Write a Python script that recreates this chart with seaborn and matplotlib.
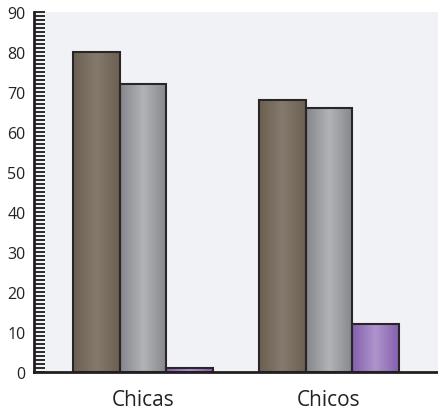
import numpy as np
import pandas as pd
import matplotlib
matplotlib.use("Agg")
import matplotlib.pyplot as plt
import seaborn as sns
from matplotlib.colors import LinearSegmentedColormap
from matplotlib.ticker import MultipleLocator

grupos = ["Chicas", "Chicos"]
serie_1 = [80, 68]
serie_2 = [72, 66]
serie_3 = [1, 12]
series = ["Serie 1", "Serie 2", "Serie 3"]

df = pd.DataFrame({
    "grupo": grupos * 3,
    "serie": [s for s in series for _ in grupos],
    "valor": serie_1 + serie_2 + serie_3,
})

sns.set_style("white")
plt.rcParams["font.family"] = ["Open Sans", "DejaVu Sans"]

# colores: borde oscuro -> centro claro (efecto cilindro)
degradados = {
    "Serie 1": ["#6c6052", "#857a6d", "#6c6052"],
    "Serie 2": ["#85878c", "#b1b3b7", "#85878c"],
    "Serie 3": ["#8660ae", "#ae94cc", "#8660ae"],
}
paleta = {s: degradados[s][1] for s in series}

fig, ax = plt.subplots(figsize=(4.38, 4.14), dpi=100)
fig.subplots_adjust(left=34 / 438, right=1.0, top=1 - 13 / 414, bottom=1 - 373 / 414)
ax.set_facecolor("#f0f2f5")

sns.barplot(data=df, x="grupo", y="valor", hue="serie", palette=paleta,
            width=0.75, edgecolor="#2a2526", linewidth=1.5, legend=False, ax=ax)

# relleno con degradado recortado a cada barra
for barra, serie in zip(ax.patches, [s for s in series for _ in grupos]):
    x0, y0 = barra.get_x(), barra.get_y()
    w, h = barra.get_width(), barra.get_height()
    cmap = LinearSegmentedColormap.from_list("g", degradados[serie])
    grad = np.linspace(0, 1, 64).reshape(1, -1)
    im = ax.imshow(grad, cmap=cmap, aspect="auto", extent=(x0, x0 + w, y0, y0 + h),
                   zorder=barra.get_zorder() - 0.1, interpolation="bilinear")
    im.set_clip_path(barra)
    barra.set_facecolor("none")

ax.set_xlim(-0.586, 1.586)
ax.set_ylim(0, 90)
ax.set_xlabel("")
ax.set_ylabel("")
ax.yaxis.set_major_locator(MultipleLocator(10))
ax.yaxis.set_minor_locator(MultipleLocator(1))
ax.tick_params(axis="y", which="both", left=True, direction="in", length=8, width=1.3,
               color="#1e1a1b")
ax.tick_params(axis="y", which="major", labelsize=11.5, pad=6, labelcolor="#222222")
ax.tick_params(axis="x", bottom=False, length=0, labelsize=15, pad=12, labelcolor="#222222")

for lado in ["top", "right"]:
    ax.spines[lado].set_visible(False)
for lado in ["left", "bottom"]:
    ax.spines[lado].set_linewidth(2)
    ax.spines[lado].set_color("#231f20")

fig.savefig("out.png", dpi=100)
